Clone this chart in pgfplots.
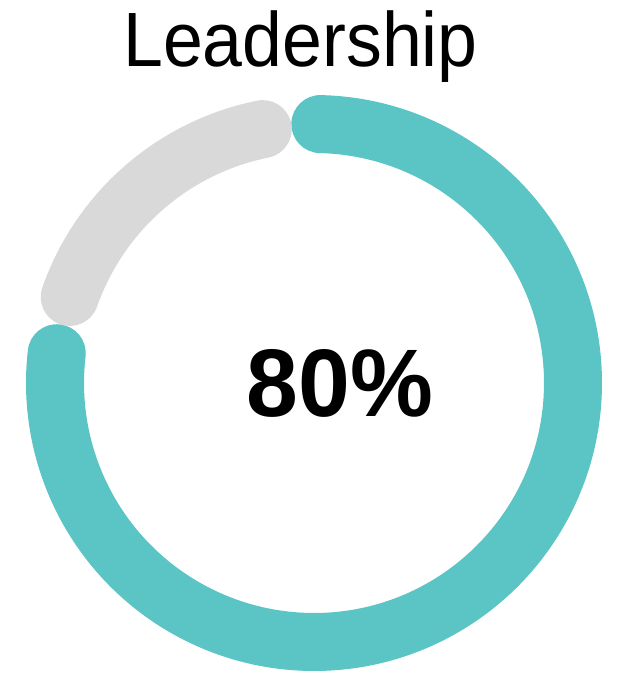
\documentclass[border=0pt]{standalone}
\usepackage{pgfplots}
\pgfplotsset{compat=1.18}
\usepackage{pgfplotstable}
\usepackage{fontspec}
\setmainfont{Liberation Sans}
\definecolor{tealc}{HTML}{5BC4C4}
\definecolor{grayc}{HTML}{D9D9D9}
\pgfplotstableread{
label value
Leadership 80
Rest 20
}\donutdata
\begin{document}
\begin{tikzpicture}
\pgfplotstablegetelem{0}{value}\of\donutdata \let\va\pgfplotsretval
\pgfplotstablegetelem{1}{value}\of\donutdata \let\vb\pgfplotsretval
\pgfmathsetmacro{\startang}{95}
\pgfmathsetmacro{\capdeg}{6.4}
\pgfmathsetmacro{\tealA}{\startang-\capdeg}
\pgfmathsetmacro{\tealB}{\startang-3.6*\va+\capdeg}
\pgfmathsetmacro{\grayA}{\startang-3.6*\va-\capdeg+360}
\pgfmathsetmacro{\grayB}{\startang+\capdeg}
\pgfmathsetmacro{\txA}{314+259*cos(\tealA)}
\pgfmathsetmacro{\tyA}{303+259*sin(\tealA)}
\pgfmathsetmacro{\gxA}{314+259*cos(\grayA)}
\pgfmathsetmacro{\gyA}{303+259*sin(\grayA)}
\begin{axis}[hide axis, scale only axis, width=622pt, height=686pt,
  xmin=0, xmax=622, ymin=0, ymax=686, clip=false]
\path (axis cs:0,0) rectangle (axis cs:622,686);
\draw[tealc, line width=58pt, line cap=round]
  (axis cs:\txA,\tyA) arc[start angle=\tealA, end angle=\tealB, radius=259pt];
\draw[grayc, line width=58pt, line cap=round]
  (axis cs:\gxA,\gyA) arc[start angle=\grayA, end angle=\grayB, radius=259pt];
\node[anchor=base, inner sep=0pt] at (axis cs:300.5,619)
  {\scalebox{0.93}[1]{\fontsize{77}{90}\selectfont Leadership}};
\node[anchor=base, inner sep=0pt] at (axis cs:340,269)
  {\scalebox{0.97}[1]{\fontsize{96}{110}\selectfont\bfseries 80\%}};
\end{axis}
\end{tikzpicture}
\end{document}
